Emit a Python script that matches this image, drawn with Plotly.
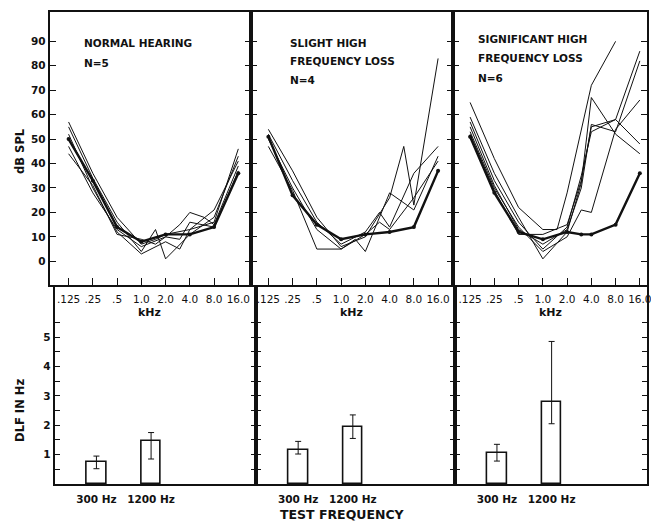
import plotly.graph_objects as go

W, H = 651, 523

# ---------------- data ----------------
FREQS = [0.125, 0.25, 0.5, 1, 1.5, 2, 3, 4, 6, 8, 16]   # kHz
FREQ_TICKS = [0.125, 0.25, 0.5, 1, 2, 4, 8, 16]
FREQ_TICK_LABELS = [".125", ".25", ".5", "1.0", "2.0", "4.0", "8.0", "16.0"]
DB_TICKS = [0, 10, 20, 30, 40, 50, 60, 70, 80, 90]

# Normal hearing, N=5 (thin = subjects, MEAN = heavy line)
NORMAL_SUBJ = [
    [57, 36, 18, 7, 9, 11, None, 13, None, 16, 46],
    [55, 34, 16, 4, 13, 1, None, 11, None, 18, 43],
    [52, 30, 12, 3, None, 8, 5, 13, None, 21, 41],
    [47, 28, 13, 6, None, 10, 15, 20, 18, 15, 39],
    [44, 31, 11, 9, 7, 10, 9, 16, None, 14, 37],
]
NORMAL_MEAN = [50, 33, 14, 8, None, 11, None, 11, None, 14, 36]

# Slight high frequency loss, N=4
SLIGHT_SUBJ = [
    [54, 37, 18, 6, None, 10, None, 26, 47, 23, 83],
    [52, 33, 16, 7, None, 12, 20, 14, None, 36, 47],
    [50, 30, 13, 5, 9, 4, None, 28, None, 21, 43],
    [47, 29, 5, 5, None, 11, 16, 13, None, 26, 41],
]
SLIGHT_MEAN = [51, 27, 15, 9, None, 11, None, 12, None, 14, 37]

# Significant high frequency loss, N=6
SIGNIF_SUBJ = [
    [65, 42, 22, 13, 13, 28, None, 72, None, 90, None],
    [59, 36, 18, 1, None, 12, 32, 67, None, 52, 44],
    [57, 33, 16, 5, None, 14, 35, 53, None, 58, 86],
    [55, 31, 13, 7, None, 13, 30, 56, None, 53, 82],
    [53, 30, 14, 4, None, 10, 21, 20, None, 54, 66],
    [52, 29, 11, 11, None, 15, 33, 55, None, 58, 48],
]
SIGNIF_MEAN = [51, 28, 12, 9, None, 12, 11, 11, None, 15, 36]

TEST_FREQS = ["300 Hz", "1200 Hz"]
DLF_NORMAL = [0.75, 1.45]
DLF_NORMAL_HI = [0.95, 1.75]
DLF_NORMAL_LO = [0.52, 0.85]
DLF_SLIGHT = [1.15, 1.95]
DLF_SLIGHT_HI = [1.45, 2.35]
DLF_SLIGHT_LO = [1.02, 1.55]
DLF_SIGNIF = [1.05, 2.8]
DLF_SIGNIF_HI = [1.35, 4.85]
DLF_SIGNIF_LO = [0.78, 2.05]
DLF_TICKS = [0.5, 1, 1.5, 2, 2.5, 3, 3.5, 4, 4.5, 5, 5.5]
DLF_TICK_LABELS = ["", "1", "", "2", "", "3", "", "4", "", "5", ""]

GROUP_TITLES = [
    ["NORMAL HEARING", "N=5"],
    ["SLIGHT HIGH", "FREQUENCY LOSS", "N=4"],
    ["SIGNIFICANT HIGH", "FREQUENCY LOSS", "N=6"],
]

# ---------------- layout helpers ----------------
FONT = "DejaVu Sans"
INK = "#111111"
L2 = 0.30103

def px(x):
    return x / W

def py(y):
    return 1 - y / H

top_dom_y = [py(285), py(12)]
bot_dom_y = [py(484), py(285)]
top_x_dom = [[px(50), px(253)], [px(253), px(456)], [px(456), 1.0]]
bot_x_dom = [[px(55), px(258)], [px(258), px(458)], [px(458), 1.0]]
# log2 ranges so that one octave ~24.4 px
top_x_rng = [[-3.779 * L2, 4.541 * L2], [-3.697 * L2, 4.623 * L2], [-3.697 * L2, 4.295 * L2]]
bot_x_rng = [[-0.764, 2.927], [-0.764, 2.873], [-0.764, 2.745]]

fig = go.Figure()

subj_sets = [NORMAL_SUBJ, SLIGHT_SUBJ, SIGNIF_SUBJ]
means = [NORMAL_MEAN, SLIGHT_MEAN, SIGNIF_MEAN]
dlf = [(DLF_NORMAL, DLF_NORMAL_HI, DLF_NORMAL_LO),
       (DLF_SLIGHT, DLF_SLIGHT_HI, DLF_SLIGHT_LO),
       (DLF_SIGNIF, DLF_SIGNIF_HI, DLF_SIGNIF_LO)]

for i in range(3):
    xa = "x" if i == 0 else f"x{i+1}"
    ya = "y" if i == 0 else f"y{i+1}"
    for s in subj_sets[i]:
        fig.add_trace(go.Scatter(x=FREQS, y=s, mode="lines", connectgaps=True,
                                 line=dict(color=INK, width=1.0), xaxis=xa, yaxis=ya,
                                 showlegend=False, hoverinfo="skip"))
    fig.add_trace(go.Scatter(x=FREQS, y=means[i], mode="lines+markers", connectgaps=True,
                             line=dict(color=INK, width=2.4),
                             marker=dict(size=4, color=INK),
                             xaxis=xa, yaxis=ya, showlegend=False, hoverinfo="skip"))
    vals, hi, lo = dlf[i]
    xb = f"x{i+4}"
    yb = f"y{i+4}"
    fig.add_trace(go.Bar(x=TEST_FREQS, y=vals, width=0.36,
                         marker=dict(color="white", line=dict(color=INK, width=1.6)),
                         error_y=dict(type="data", symmetric=False,
                                      array=[h - v for h, v in zip(hi, vals)],
                                      arrayminus=[v - l for v, l in zip(vals, lo)],
                                      color=INK, thickness=1, width=3),
                         xaxis=xb, yaxis=yb, showlegend=False, hoverinfo="skip"))

tickfont = dict(family=FONT, size=10.5, color=INK)
boldtick = dict(family=FONT, size=10.5, color=INK, weight="bold")
layout = dict(width=W, height=H, margin=dict(l=0, r=0, t=0, b=0),
              paper_bgcolor="white", plot_bgcolor="white", bargap=0)

for i in range(3):
    n = "" if i == 0 else str(i + 1)
    layout[f"xaxis{n}"] = dict(
        type="log", domain=top_x_dom[i], range=top_x_rng[i], anchor=f"y{n}",
        tickvals=FREQ_TICKS, ticktext=FREQ_TICK_LABELS, ticks="inside", ticklen=7,
        tickwidth=1.2, tickcolor=INK, showline=True, linewidth=2, linecolor=INK,
        mirror=True, showgrid=False, zeroline=False, tickfont=tickfont,
        ticklabelstandoff=3, ticklabeloverflow="allow")
    layout[f"yaxis{n}"] = dict(
        domain=top_dom_y, range=[-9.7, 102.0], anchor=f"x{n}",
        tickvals=DB_TICKS, showticklabels=(i == 0), ticks="inside", ticklen=6,
        tickwidth=1.2, tickcolor=INK, showline=True, linewidth=2, linecolor=INK,
        mirror="ticks", showgrid=False, zeroline=False, tickfont=boldtick)
    b = str(i + 4)
    layout[f"xaxis{b}"] = dict(
        type="category", domain=bot_x_dom[i], range=bot_x_rng[i], anchor=f"y{b}",
        ticks="", showline=True, linewidth=2, linecolor=INK, showgrid=False,
        zeroline=False, tickfont=boldtick, ticklabelstandoff=4)
    layout[f"yaxis{b}"] = dict(
        domain=bot_dom_y, range=[0, 6.77], anchor=f"x{b}",
        tickvals=DLF_TICKS, ticktext=DLF_TICK_LABELS, showticklabels=(i == 0),
        ticks="inside", ticklen=5, tickwidth=1.2, tickcolor=INK, showline=True,
        linewidth=2, linecolor=INK, mirror="ticks", showgrid=False, zeroline=False,
        tickfont=boldtick)

fig.update_layout(**layout)

ann = []
title_pos = [(83, [43, 63]), (290, [43, 61, 80]), (479, [39, 58, 78])]
for (x0, ys), lines in zip(title_pos, GROUP_TITLES):
    for yy, t in zip(ys, lines):
        ann.append(dict(x=px(x0), y=py(yy), xref="paper", yref="paper", text=t,
                        showarrow=False, xanchor="left", yanchor="middle",
                        font=dict(family=FONT, size=10.5, color=INK, weight="bold")))
for xk in (150, 354, 554):
    ann.append(dict(x=px(xk), y=py(312), xref="paper", yref="paper", text="kHz",
                    showarrow=False, xanchor="center", yanchor="middle",
                    font=dict(family=FONT, size=11, color=INK, weight="bold")))
ann.append(dict(x=px(20), y=py(151), xref="paper", yref="paper", text="dB SPL",
                textangle=-90, showarrow=False, xanchor="center", yanchor="middle",
                font=dict(family=FONT, size=11.5, color=INK, weight="bold")))
ann.append(dict(x=px(20), y=py(410), xref="paper", yref="paper", text="DLF IN Hz",
                textangle=-90, showarrow=False, xanchor="center", yanchor="middle",
                font=dict(family=FONT, size=11.5, color=INK, weight="bold")))
ann.append(dict(x=px(345), y=py(514), xref="paper", yref="paper", text="TEST FREQUENCY",
                showarrow=False, xanchor="center", yanchor="middle",
                font=dict(family=FONT, size=12.5, color=INK, weight="bold")))
fig.update_layout(annotations=ann)

fig.write_html("out.html")
